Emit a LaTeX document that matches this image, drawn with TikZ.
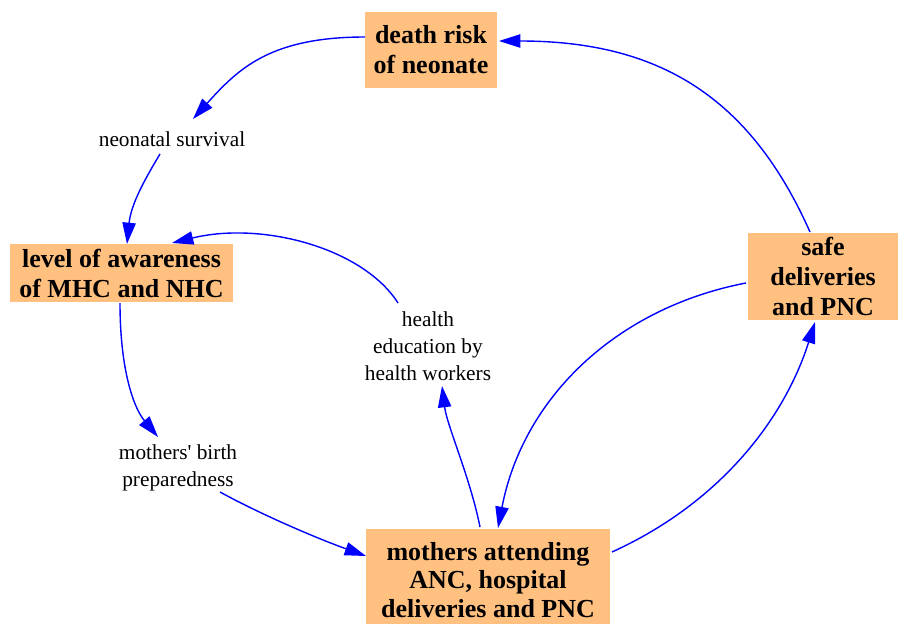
\documentclass[tikz,border=0pt]{standalone}
\usepackage{fontspec}
\setmainfont{Liberation Serif}[Ligatures=TeXOff]
\usetikzlibrary{arrows.meta}
\definecolor{boxfill}{RGB}{255,192,128}
\tikzset{
  stock/.style={fill=boxfill, inner sep=0pt, align=center,
    font=\bfseries\fontsize{19.5}{22.5}\selectfont},
  aux/.style={inner sep=0pt, align=center,
    font=\fontsize{16}{20.25}\selectfont},
  link/.style={draw=blue, line width=1.05pt,
    -{Triangle[length=16pt,width=10pt]}, blue}
}
\begin{document}
\begin{tikzpicture}[x=0.75pt,y=-0.75pt]
\useasboundingbox (0,0) rectangle (899,624);
\begin{scope}
\clip (0,0) rectangle (899,624);
% stocks
\node[stock, minimum width=99pt, minimum height=57pt] (dr) at (431,50) {death risk\\of neonate};
\node[stock, minimum width=167.25pt, minimum height=43.5pt] (lv) at (121.5,273) {level of awareness\\of MHC and NHC};
\node[stock, minimum width=112.5pt, minimum height=65.25pt] (sd) at (823,276.5) {safe\\deliveries\\and PNC};
\node[stock, minimum width=183pt, minimum height=76.5pt,
      font=\bfseries\fontsize{19.5}{21.5}\selectfont] (ma) at (488,580) {mothers attending\\ANC, hospital\\deliveries and PNC};
\end{scope}
% auxiliary variables
\node[aux] (ns) at (172,139) {neonatal survival};
\node[aux] (he) at (428,346) {health\\education by\\health workers};
\node[aux] (mbp) at (178,468) {mothers' birth\\preparedness};
% causal links
\draw[link] ([shift={(-66,-13)}]dr.center) .. controls +(-95,0) and +(45,-50) .. ([shift={(21,-20)}]ns.center);
\draw[link] ([shift={(-12,15)}]ns.center) .. controls +(-15,25) and +(4,-40) .. ([shift={(5.5,-29)}]lv.center);
\draw[link] ([shift={(-1.5,30)}]lv.center) .. controls +(0,65) and +(-25,-30) .. ([shift={(-20,-31)}]mbp.center);
\draw[link] ([shift={(42,24)}]mbp.center) .. controls +(40,22) and +(-50,-18) .. ([shift={(-122,-24)}]ma.center);
\draw[link] ([shift={(-8,-53)}]ma.center) .. controls +(-10,-50) and +(5,40) .. ([shift={(14,40)}]he.center);
\draw[link] ([shift={(-30,-43)}]he.center) .. controls +(-35,-55) and +(90,-22) .. ([shift={(50.5,-30)}]lv.center);
\draw[link] ([shift={(124,-28)}]ma.center) .. controls +(110,-50) and +(-30,95) .. ([shift={(-8,45.5)}]sd.center);
\draw[link] ([shift={(-77,6.5)}]sd.center) .. controls +(-130,25) and +(25,-130) .. ([shift={(10,-52)}]ma.center);
\draw[link] ([shift={(-13,-44.5)}]sd.center) .. controls +(-60,-135) and +(160,0) .. ([shift={(68,-9)}]dr.center);
\end{tikzpicture}
\end{document}
